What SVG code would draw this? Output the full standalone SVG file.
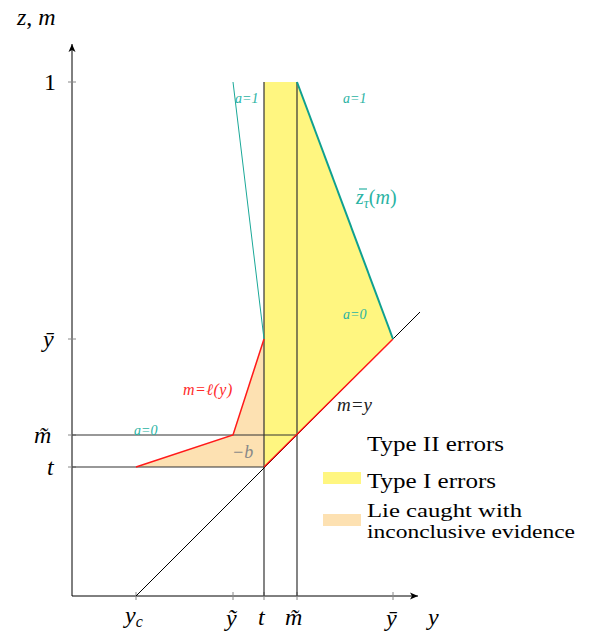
<svg xmlns="http://www.w3.org/2000/svg" width="590" height="638" viewBox="0 0 590 638">
<defs>
<marker id="arr" markerWidth="10" markerHeight="8" refX="8" refY="4" orient="auto" markerUnits="userSpaceOnUse">
<path d="M0,0.5 L8,4 L0,7.5 L2,4 Z" fill="#000"/>
</marker>
<style>
.m{font-family:"Liberation Serif",serif;font-style:italic;font-size:24px;fill:#000}
.n{font-family:"Liberation Serif",serif;font-size:24px;fill:#000}
.lg{font-family:"Liberation Serif",serif;font-size:21px;fill:#000}
.lg2{font-family:"Liberation Serif",serif;font-size:19px;fill:#000}
.tl{font-family:"Liberation Serif",serif;font-style:italic;font-size:14px;fill:#2ab3a3}
.rl{font-family:"Liberation Serif",serif;font-style:italic;font-size:16px;fill:#ff2a2a}
.ax{stroke:#000;stroke-width:1;fill:none}
.tk{stroke:#888;stroke-width:1}
.gl{stroke:#333;stroke-width:1.2;fill:none}
</style>
</defs>
<g id="regions">
<polygon id="typeI" points="264,82 297,82 393,339 297,435 264,467" fill="#fff680"/>
<polygon id="lie" points="136,467 233,435 264,339 264,467" fill="#fde1b2"/>
</g>
<g id="connectors">
<line class="ax" x1="72" y1="596" x2="72" y2="44" marker-end="url(#arr)"/>
<line class="ax" x1="72" y1="596" x2="418" y2="596" marker-end="url(#arr)"/>
<line class="tk" x1="68" y1="82" x2="76" y2="82"/>
<line class="tk" x1="68" y1="339" x2="76" y2="339"/>
<line class="tk" x1="68" y1="435" x2="76" y2="435"/>
<line class="tk" x1="68" y1="467" x2="76" y2="467"/>
<line class="tk" x1="136" y1="592" x2="136" y2="600"/>
<line class="tk" x1="233" y1="592" x2="233" y2="600"/>
<line class="tk" x1="264" y1="592" x2="264" y2="600"/>
<line class="tk" x1="297" y1="592" x2="297" y2="600"/>
<line class="tk" x1="393" y1="592" x2="393" y2="600"/>
<line class="gl" x1="264" y1="82" x2="264" y2="596"/>
<line class="gl" x1="297" y1="82" x2="297" y2="596"/>
<line class="gl" x1="72" y1="435" x2="297" y2="435"/>
<line class="gl" x1="72" y1="467" x2="264" y2="467"/>
<line x1="136" y1="596" x2="420" y2="312" stroke="#000" stroke-width="1"/>
<polyline points="264,467 393,339" fill="none" stroke="#ff1a1a" stroke-width="1.5"/>
<polyline points="136,467 233,435 264,339" fill="none" stroke="#ff1a1a" stroke-width="1.5"/>
<line x1="233" y1="82" x2="264" y2="339" stroke="#1aa898" stroke-width="1"/>
<line x1="297" y1="82" x2="393" y2="339" stroke="#0fa090" stroke-width="2"/>
</g>
<g id="axis-labels">
<text class="m" x="17" y="25">z<tspan font-style="normal">,</tspan> m</text>
<text class="n" x="44" y="90">1</text>
<text class="m" x="43" y="347">ȳ</text>
<text class="m" x="34" y="443">m̃</text>
<text class="m" x="47" y="475">t</text>
<text class="m" x="125" y="623">y<tspan font-size="16" dy="4">c</tspan></text>
<text class="m" x="226" y="626">ỹ</text>
<text class="m" x="258" y="625">t</text>
<text class="m" x="285" y="625">m̃</text>
<text class="m" x="386" y="626">ȳ</text>
<text class="m" x="428" y="625">y</text>
</g>
<g id="curve-labels">
<text class="tl" x="235" y="103">a=1</text>
<text class="tl" x="343" y="103">a=1</text>
<text class="tl" x="343" y="319">a=0</text>
<text class="tl" x="134" y="435">a=0</text>
<text x="356" y="204" font-family="Liberation Serif,serif" font-style="italic" font-size="20" fill="#2ab3a3">z<tspan font-size="14" dy="4">τ</tspan><tspan dy="-4" font-style="normal">(</tspan>m<tspan font-style="normal">)</tspan></text>
<line x1="359" y1="189" x2="367" y2="189" stroke="#2ab3a3" stroke-width="1.2"/>
<text class="rl" x="183" y="395" letter-spacing="0.5">m=ℓ(y)</text>
<text x="337" y="411" font-family="Liberation Serif,serif" font-style="italic" font-size="19" fill="#222">m=y</text>
<text x="232" y="458" font-family="Liberation Serif,serif" font-style="italic" font-size="18" fill="#888">−b</text>
</g>
<g id="legend">
<text class="lg" x="367" y="451" textLength="137" lengthAdjust="spacingAndGlyphs">Type II errors</text>
<rect x="323" y="472" width="38" height="12" fill="#fff680"/>
<text class="lg" x="367" y="488" textLength="129" lengthAdjust="spacingAndGlyphs">Type I errors</text>
<rect x="323" y="514" width="38" height="12" fill="#fde1b2"/>
<text class="lg2" x="367" y="517" textLength="155" lengthAdjust="spacingAndGlyphs">Lie caught with</text>
<text class="lg2" x="367" y="538" textLength="208" lengthAdjust="spacingAndGlyphs">inconclusive evidence</text>
</g>
</svg>
